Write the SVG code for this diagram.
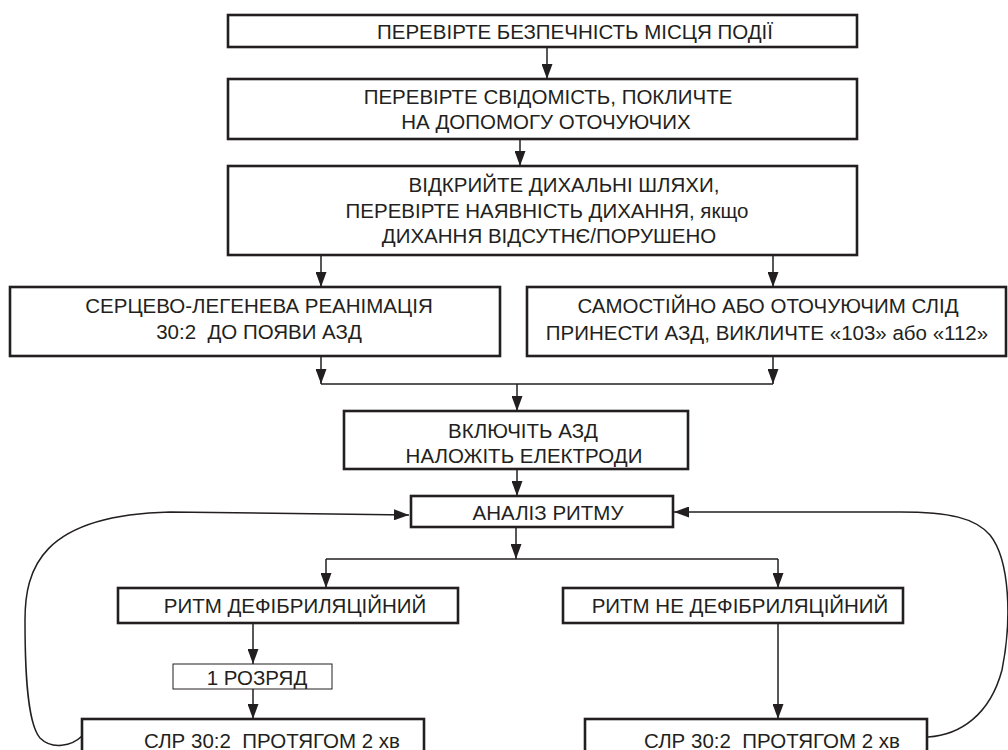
<svg xmlns="http://www.w3.org/2000/svg" width="1008" height="750" viewBox="0 0 1008 750">
<defs>
<style>
.box{fill:#fff;stroke:#231f20;stroke-width:2.6}
.thin{fill:#fff;stroke:#231f20;stroke-width:1}
.t{font-family:"Liberation Sans",Arial,sans-serif;font-size:20.5px;fill:#231f20;text-anchor:middle}
.c{fill:none;stroke:#231f20;stroke-width:1.5}
</style>
<marker id="ah" viewBox="0 0 15 11" refX="15" refY="5.5" markerWidth="15" markerHeight="11" orient="auto" markerUnits="userSpaceOnUse"><path d="M0,0 L15,5.5 L0,11 z" fill="#231f20"/></marker>
</defs>
<g id="connectors">
<line class="c" x1="547" y1="47" x2="547" y2="79" marker-end="url(#ah)"/>
<line class="c" x1="520" y1="139" x2="520" y2="166" marker-end="url(#ah)"/>
<line class="c" x1="321" y1="255" x2="321" y2="287" marker-end="url(#ah)"/>
<line class="c" x1="773" y1="255" x2="773" y2="287" marker-end="url(#ah)"/>
<line class="c" x1="321" y1="356" x2="321" y2="384" marker-end="url(#ah)"/>
<line class="c" x1="773" y1="356" x2="773" y2="384" marker-end="url(#ah)"/>
<line class="c" x1="321" y1="384" x2="773" y2="384"/>
<line class="c" x1="517" y1="384" x2="517" y2="411" marker-end="url(#ah)"/>
<line class="c" x1="517" y1="469" x2="517" y2="496" marker-end="url(#ah)"/>
<line class="c" x1="516" y1="527" x2="516" y2="559" marker-end="url(#ah)"/>
<line class="c" x1="326" y1="559" x2="778" y2="559"/>
<line class="c" x1="326" y1="559" x2="326" y2="588" marker-end="url(#ah)"/>
<line class="c" x1="778" y1="559" x2="778" y2="588" marker-end="url(#ah)"/>
<line class="c" x1="253" y1="623" x2="253" y2="664" marker-end="url(#ah)"/>
<line class="c" x1="253" y1="689" x2="253" y2="719" marker-end="url(#ah)"/>
<line class="c" x1="778" y1="623" x2="778" y2="719" marker-end="url(#ah)"/>
<path class="c" d="M82,736 C72,746 52,750 40,738 C26,722 25,660 25,620 C25,570 40,515 170,512 L409,515" marker-end="url(#ah)"/>
<path class="c" d="M928,737 C960,735 990,715 1002,670 C1012,620 1010,560 990,535 C975,518 950,512 900,512 L674,512" marker-end="url(#ah)"/>
</g>
<g id="n1"><rect class="box" x="228" y="15" width="629" height="32"/><text class="t" x="575" y="39">ПЕРЕВІРТЕ БЕЗПЕЧНІСТЬ МІСЦЯ ПОДІЇ</text></g>
<g id="n2"><rect class="box" x="228" y="79" width="629" height="60"/><text class="t" x="548" y="104">ПЕРЕВІРТЕ СВІДОМІСТЬ, ПОКЛИЧТЕ</text><text class="t" x="546" y="129">НА ДОПОМОГУ ОТОЧУЮЧИХ</text></g>
<g id="n3"><rect class="box" x="228" y="166" width="629" height="89"/><text class="t" x="564" y="192">ВІДКРИЙТЕ ДИХАЛЬНІ ШЛЯХИ,</text><text class="t" x="547" y="217.5">ПЕРЕВІРТЕ НАЯВНІСТЬ ДИХАННЯ, якщо</text><text class="t" x="549" y="243">ДИХАННЯ ВІДСУТНЄ/ПОРУШЕНО</text></g>
<g id="n4"><rect class="box" x="10" y="287" width="490" height="69"/><text class="t" x="259" y="313">СЕРЦЕВО-ЛЕГЕНЕВА РЕАНІМАЦІЯ</text><text class="t" x="259" y="339" xml:space="preserve">30:2  ДО ПОЯВИ АЗД</text></g>
<g id="n5"><rect class="box" x="527" y="287" width="479" height="69"/><text class="t" x="768" y="313">САМОСТІЙНО АБО ОТОЧУЮЧИМ СЛІД</text><text class="t" x="767" y="340">ПРИНЕСТИ АЗД, ВИКЛИЧТЕ «103» або «112»</text></g>
<g id="n6"><rect class="box" x="344" y="411" width="344" height="58"/><text class="t" x="523" y="438">ВКЛЮЧІТЬ АЗД</text><text class="t" x="524" y="463">НАЛОЖІТЬ ЕЛЕКТРОДИ</text></g>
<g id="n7"><rect class="box" x="411" y="496" width="262" height="31"/><text class="t" x="548" y="520">АНАЛІЗ РИТМУ</text></g>
<g id="n8"><rect class="box" x="118" y="588" width="340" height="35"/><text class="t" x="295" y="613">РИТМ ДЕФІБРИЛЯЦІЙНИЙ</text></g>
<g id="n9"><rect class="box" x="563" y="588" width="340" height="35"/><text class="t" x="740" y="613">РИТМ НЕ ДЕФІБРИЛЯЦІЙНИЙ</text></g>
<g id="n10"><rect class="thin" x="173" y="664" width="159" height="25"/><text class="t" x="257" y="685">1 РОЗРЯД</text></g>
<g id="n11"><rect class="box" x="82" y="719" width="342" height="50"/><text class="t" x="272" y="748" xml:space="preserve">СЛР 30:2  ПРОТЯГОМ 2 хв</text></g>
<g id="n12"><rect class="box" x="585" y="719" width="342" height="50"/><text class="t" x="772" y="748" xml:space="preserve">СЛР 30:2  ПРОТЯГОМ 2 хв</text></g>
</svg>
